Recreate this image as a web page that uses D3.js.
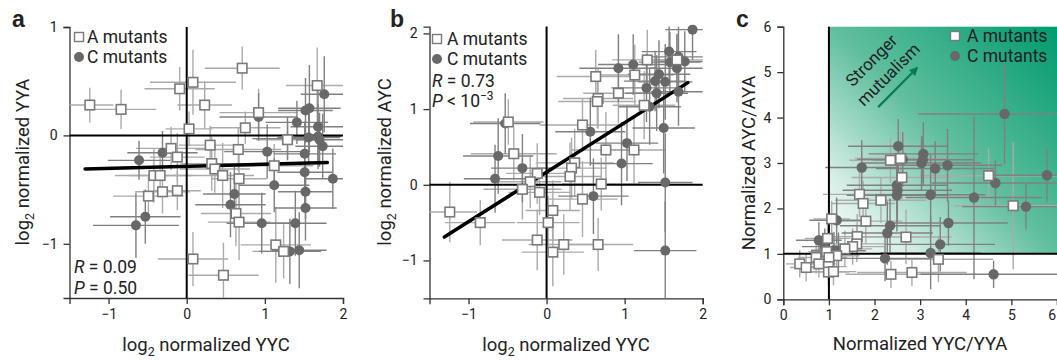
<!DOCTYPE html>
<html><head><meta charset="utf-8">
<script src="https://cdn.jsdelivr.net/npm/d3@7"></script>
<style>
body{margin:0;background:#fff;}
svg text{font-family:Roboto,"Liberation Sans",sans-serif;fill:#222;}
</style></head>
<body><svg id="c" width="1057" height="360"></svg>
<script>
// ---- data: [x, y, xErr, yErr] ----
const aSquares = [
[-1.24,0.28,0.30,0.16],[-0.84,0.24,0.45,0.18],[-0.09,0.43,0.45,0.20],[0.08,0.49,0.55,0.30],
[0.71,0.62,0.48,0.20],[0.23,0.28,0.35,0.22],[0.03,0.06,0.30,0.16],[0.92,0.21,0.50,0.22],
[0.75,0.07,0.45,0.15],[1.67,0.46,0.40,0.35],[1.29,-0.04,0.40,0.18],[-0.20,-0.12,0.45,0.20],
[0.30,-0.09,0.40,0.18],[-0.12,-0.20,0.35,0.22],[0.66,-0.13,0.55,0.20],[0.32,-0.26,0.40,0.25],
[0.36,-0.31,0.45,0.22],[1.12,-0.28,0.50,0.20],[-0.42,-0.37,0.50,0.25],[-0.34,-0.37,0.40,0.20],
[-0.49,-0.56,0.45,0.18],[-0.31,-0.52,0.35,0.20],[-0.12,-0.51,0.30,0.18],[0.46,-0.37,0.40,0.30],
[0.67,-0.40,0.35,0.30],[0.63,-0.72,0.45,0.30],[0.67,-0.80,0.40,0.35],[1.14,-1.01,0.45,0.35],
[1.24,-1.07,0.40,0.25],[0.08,-1.14,0.45,0.25],[0.47,-1.29,0.45,0.30]];
const aCircles = [
[-0.61,-0.23,0.40,0.18],[-0.31,-0.16,0.45,0.20],[-0.53,-0.75,0.45,0.25],[-0.65,-0.83,0.55,0.30],
[0.92,0.17,0.50,0.22],[1.03,-0.15,0.55,0.25],[1.41,0.12,0.40,0.20],[1.52,0.23,0.35,0.30],
[1.57,0.25,0.40,0.40],[1.76,0.38,0.30,0.35],[1.68,0.08,0.35,0.35],[1.56,-0.02,0.40,0.25],
[1.68,-0.01,0.30,0.30],[1.70,-0.04,0.30,0.25],[1.74,-0.10,0.35,0.30],[1.51,-0.17,0.40,0.30],
[1.51,-0.34,0.35,0.30],[1.87,-0.40,0.35,0.28],[1.12,-0.46,0.45,0.25],[0.61,-0.54,0.40,0.25],
[0.56,-0.64,0.45,0.30],[0.96,-0.81,0.45,0.28],[1.39,-0.81,0.40,0.30],[1.52,-0.52,0.35,0.25],
[1.52,-0.67,0.40,0.30],[1.32,-1.07,0.40,0.30],[1.44,-1.06,0.35,0.35],[1.29,-0.03,0.45,0.20]];
const aFit = [[-1.30,-0.31],[1.80,-0.25]];

const bSquares = [
[-1.24,-0.36,0.35,0.40],[-0.85,-0.50,0.45,0.30],[-0.49,0.83,0.45,0.30],[-0.42,0.41,0.55,0.35],
[-0.12,0.15,0.40,0.40],[-0.21,0.04,0.40,0.35],[-0.31,-0.06,0.50,0.40],[-0.09,-0.10,0.40,0.30],
[0.08,-0.34,0.35,0.40],[0.02,-0.50,0.40,0.35],[-0.12,-0.73,0.45,0.40],[0.08,-0.89,0.40,0.45],
[0.22,-0.79,0.45,0.40],[0.66,-0.79,0.45,0.35],[0.46,-0.19,0.45,0.50],[0.36,0.29,0.50,0.45],
[0.32,0.22,0.45,0.40],[0.30,0.11,0.40,0.45],[0.46,0.79,0.55,0.35],[0.70,0.01,0.50,0.35],
[0.63,1.43,0.50,0.35],[0.66,1.14,0.45,0.40],[0.65,1.10,0.50,0.35],[0.92,1.21,0.45,0.40],
[1.13,1.45,0.50,0.40],[1.29,1.65,0.45,0.40],[1.25,1.05,0.40,0.45],[0.76,0.46,0.45,0.50],
[1.12,0.46,0.40,0.45],[1.67,1.65,0.35,0.35]];
const bCircles = [
[1.87,2.05,0.35,0.40],[1.57,1.76,0.35,0.35],[1.69,1.69,0.35,0.40],[1.77,1.63,0.35,0.40],
[1.58,1.62,0.40,0.40],[1.11,1.59,0.45,0.40],[0.92,1.54,0.50,0.45],[1.67,1.54,0.35,0.45],
[1.44,1.46,0.40,0.45],[1.39,1.37,0.40,0.40],[1.52,1.36,0.35,0.50],[1.28,1.28,0.45,0.45],
[1.41,1.21,0.40,0.50],[1.69,1.23,0.35,0.45],[1.32,1.03,0.40,0.50],[1.50,0.75,0.40,0.60],
[0.56,0.70,0.45,0.45],[1.03,0.55,0.40,0.50],[0.96,0.28,0.40,0.55],[-0.53,0.81,0.45,0.40],
[-0.62,0.38,0.45,0.50],[-0.31,0.22,0.40,0.45],[-0.66,0.08,0.40,0.45],[0.60,-0.15,0.45,0.50],
[1.52,0.03,0.35,0.65],[1.52,-0.87,0.40,0.65]];
const bFit = [[-1.31,-0.69],[1.81,1.35]];

const cSquares = [
[2.35,3.06,0.9,0.5],[2.57,3.10,1.0,0.6],[2.60,2.68,1.1,0.5],[4.50,2.72,1.5,0.6],
[5.04,2.06,1.3,1.4],[2.14,2.18,1.0,0.5],[2.69,1.37,1.0,0.6],[3.40,0.88,1.2,0.5],
[2.36,0.55,1.0,0.3],[2.82,0.59,1.2,0.3],[1.67,2.31,0.8,0.5],[1.75,2.11,0.7,0.5],
[1.81,1.72,0.8,0.5],[1.06,1.77,0.4,0.4],[1.62,1.38,0.7,0.5],[1.61,1.22,0.6,0.4],
[1.52,1.16,0.7,0.4],[0.97,1.34,0.5,0.4],[1.35,1.11,0.6,0.4],[0.95,1.05,0.4,0.3],
[1.17,0.96,0.5,0.4],[1.00,0.92,0.4,0.3],[0.36,0.78,0.3,0.3],[0.50,0.70,0.35,0.3],
[0.72,0.92,0.4,0.35],[0.78,0.78,0.4,0.3],[0.99,0.72,0.4,0.3],[0.99,0.60,0.45,0.3],
[1.10,0.61,0.5,0.3]];
const cCircles = [
[4.85,4.08,1.9,1.1],[2.52,3.37,1.1,0.6],[3.07,3.20,1.2,0.7],[1.72,2.90,0.8,0.6],
[2.62,3.08,1.0,0.6],[3.03,3.00,1.3,0.6],[3.06,3.07,1.1,0.5],[3.33,2.88,1.3,0.6],
[3.60,2.95,1.2,0.8],[5.78,2.73,1.4,0.6],[4.65,2.56,1.4,0.5],[2.49,2.51,1.1,0.6],
[2.50,2.40,1.2,0.7],[2.49,2.29,1.1,0.8],[3.23,2.30,1.2,0.9],[4.18,2.24,1.5,1.8],
[5.32,2.04,1.4,0.5],[3.62,1.68,1.3,0.5],[2.34,1.62,1.1,0.6],[2.28,1.46,1.0,0.7],
[3.44,1.21,1.2,0.6],[3.23,1.02,1.1,0.8],[2.23,0.90,1.0,0.5],[4.61,0.55,1.6,0.3],
[1.17,1.74,0.6,0.5],[0.78,1.30,0.5,0.4],[0.91,1.16,0.5,0.4],[1.11,1.08,0.5,0.4],
[1.21,1.07,0.6,0.4]];
const arrowC = [[2.08,4.23],[2.93,5.09]];

const ticksAB_x = [-1,0,1,2];
const ticksA_y = [-1,0,1];
const ticksB_y = [-1,0,1,2];
const ticksC = [0,1,2,3,4,5,6];
const legendLabels = ["A mutants","C mutants"];

// ---- drawing ----
const svg = d3.select("#c");
const defs = svg.append("defs");
const fmt = d => d < 0 ? "\u2212" + Math.abs(d) : String(d);
const colA = "#ababab", colC = "#808080";
const TITLE = 18.5, LEG = 17.5, TICK = 14;

function panel(id, xs, ys, xt, yt, sq, ci, sqSize, cr) {
  const g = svg.append("g");
  const [x0,x1] = xs.range(), [y0,y1] = ys.range();
  defs.append("clipPath").attr("id","clip"+id).append("rect")
    .attr("x",x0).attr("y",y1).attr("width",x1-x0).attr("height",y0-y1);
  const ax = g.append("g").attr("transform",`translate(0,${y0})`)
    .call(d3.axisBottom(xs).tickValues(xt).tickFormat(fmt).tickSizeOuter(0).tickSize(6).tickPadding(5));
  const ay = g.append("g").attr("transform",`translate(${x0},0)`)
    .call(d3.axisLeft(ys).tickValues(yt).tickFormat(fmt).tickSizeOuter(0).tickSize(6).tickPadding(6));
  [ax,ay].forEach(a=>{a.selectAll("path,line").attr("stroke","#333").attr("stroke-width",1.3);
    a.selectAll("text").attr("font-size",TICK).attr("fill","#222").style("font-family","Roboto,sans-serif");});
  // keep the last x tick label inside the page
  ax.selectAll(".tick text").filter(d => xs(d) > 1050).attr("text-anchor","end").attr("x",-1.5);
  const eb = g.append("g").attr("clip-path",`url(#clip${id})`);
  function bars(data,col){
    eb.append("g").selectAll("line.h").data(data).join("line")
      .attr("x1",d=>xs(d[0]-d[2])).attr("x2",d=>xs(d[0]+d[2]))
      .attr("y1",d=>ys(d[1])).attr("y2",d=>ys(d[1])).attr("stroke",col).attr("stroke-width",1.4);
    eb.append("g").selectAll("line.v").data(data).join("line")
      .attr("x1",d=>xs(d[0])).attr("x2",d=>xs(d[0]))
      .attr("y1",d=>ys(d[1]-d[3])).attr("y2",d=>ys(d[1]+d[3])).attr("stroke",col).attr("stroke-width",1.4);
  }
  bars(sq,colA); bars(ci,colC);
  return {g, eb, drawMarkers(){
    g.append("g").selectAll("circle").data(ci).join("circle")
      .attr("cx",d=>xs(d[0])).attr("cy",d=>ys(d[1])).attr("r",cr).attr("fill","#686868");
    g.append("g").selectAll("rect").data(sq).join("rect")
      .attr("x",d=>xs(d[0])-sqSize/2).attr("y",d=>ys(d[1])-sqSize/2)
      .attr("width",sqSize).attr("height",sqSize)
      .attr("fill","#fff").attr("stroke","#7a7a7a").attr("stroke-width",1.6);
  }};
}

function refLines(g, xs, ys, xv, yv) {
  g.append("line").attr("x1",xs.range()[0]).attr("x2",xs.range()[1]).attr("y1",ys(yv)).attr("y2",ys(yv))
    .attr("stroke","#000").attr("stroke-width",2);
  g.append("line").attr("x1",xs(xv)).attr("x2",xs(xv)).attr("y1",ys.range()[0]).attr("y2",ys.range()[1])
    .attr("stroke","#000").attr("stroke-width",2);
}

function legend(g, x, y, tx) {
  g.append("rect").attr("x",x-4.5).attr("y",y-4.5).attr("width",9).attr("height",9)
    .attr("fill","#fff").attr("stroke","#7a7a7a").attr("stroke-width",1.4);
  g.append("circle").attr("cx",x).attr("cy",y+20).attr("r",5).attr("fill","#686868");
  legendLabels.forEach((t,i)=>g.append("text").attr("x",tx).attr("y",y+6+20*i)
    .attr("font-size",LEG).text(t));
}

function logLabel(g, x, y, rot, name) {
  const t = g.append("text").attr("text-anchor","middle").attr("font-size",TITLE)
    .attr("transform",`translate(${x},${y}) rotate(${rot})`);
  t.append("tspan").text("log");
  t.append("tspan").attr("font-size",12.5).attr("dy",4.5).text("2");
  t.append("tspan").attr("dy",-4.5).text(" normalized " + name);
}

function letter(x, y, t) {
  svg.append("text").attr("x",x).attr("y",y).attr("font-size",23).attr("font-weight","bold")
    .style("font-family","'Liberation Sans',Arial,sans-serif").attr("fill","#000").text(t);
}

function stat(g, x, y, sym, rest) {
  const t = g.append("text").attr("x",x).attr("y",y).attr("font-size",LEG);
  t.append("tspan").attr("font-style","italic").text(sym);
  t.append("tspan").text(rest);
  return t;
}

// Panel a
const xa = d3.scaleLinear().domain([-1.5,2]).range([69.5,343]);
const ya = d3.scaleLinear().domain([-1.5,1]).range([298,27]);
const pa = panel("a", xa, ya, ticksAB_x, ticksA_y, aSquares, aCircles, 9.5, 5);
refLines(pa.g, xa, ya, 0, 0);
pa.g.append("line").attr("x1",xa(aFit[0][0])).attr("y1",ya(aFit[0][1])).attr("x2",xa(aFit[1][0])).attr("y2",ya(aFit[1][1]))
  .attr("stroke","#000").attr("stroke-width",3.5).attr("stroke-linecap","round");
pa.drawMarkers();
legend(pa.g, 79, 37, 87);
stat(pa.g, 74, 273, "R", " = 0.09");
stat(pa.g, 74, 294, "P", " = 0.50");
logLabel(svg, 29, 162, -90, "YYA");
logLabel(svg, 206, 351, 0, "YYC");
letter(12, 27, "a");

// Panel b
const xb = d3.scaleLinear().domain([-1.5,2]).range([429.5,702.7]);
const yb = d3.scaleLinear().domain([-1.5,2.09]).range([298.3,26.6]);
const pb = panel("b", xb, yb, ticksAB_x, ticksB_y, bSquares, bCircles, 9.5, 5);
refLines(pb.g, xb, yb, 0, 0);
pb.g.append("line").attr("x1",xb(bFit[0][0])).attr("y1",yb(bFit[0][1])).attr("x2",xb(bFit[1][0])).attr("y2",yb(bFit[1][1]))
  .attr("stroke","#000").attr("stroke-width",3.5).attr("stroke-linecap","round");
pb.drawMarkers();
legend(pb.g, 437, 39, 447);
stat(pb.g, 432, 87, "R", " = 0.73");
const t4 = stat(pb.g, 432, 107, "P", " < 10");
t4.append("tspan").attr("font-size",12).attr("dy",-7).text("\u22123");
logLabel(svg, 391, 162, -90, "AYC");
logLabel(svg, 566, 351, 0, "YYC");
letter(390, 27, "b");

// Panel c
const xc = d3.scaleLinear().domain([0,6]).range([783.3,1057]);
const yc = d3.scaleLinear().domain([0,6]).range([299.3,26.7]);
const grad = defs.append("linearGradient").attr("id","gc").attr("gradientUnits","userSpaceOnUse")
  .attr("x1",xc(1)).attr("y1",yc(1)).attr("x2",xc(6)).attr("y2",yc(6));
[[0,"#ffffff"],[0.18,"#d5eee6"],[0.5,"#62bf9f"],[1,"#009a6f"]].forEach(s=>grad.append("stop").attr("offset",s[0]).attr("stop-color",s[1]));
svg.append("rect").attr("x",xc(1)).attr("y",yc(6)).attr("width",xc(6)-xc(1)).attr("height",yc(1)-yc(6)).attr("fill","url(#gc)");
const pc = panel("c", xc, yc, ticksC, ticksC, cSquares, cCircles, 9.5, 5.2);
refLines(pc.g, xc, yc, 1, 1);
pc.drawMarkers();
legend(pc.g, 955, 36, 967);
// annotation
const ann = pc.g.append("g").attr("transform","translate(872,61) rotate(-45)");
ann.append("text").attr("text-anchor","middle").attr("y",5).attr("font-size",17).attr("fill","#17915f").text("Stronger");
ann.append("text").attr("text-anchor","middle").attr("x",2).attr("y",27).attr("font-size",17).attr("fill","#17915f").text("mutualism");
defs.append("marker").attr("id","ah").attr("viewBox","0 0 10 10").attr("refX",8).attr("refY",5)
  .attr("markerWidth",4).attr("markerHeight",4).attr("orient","auto")
  .append("path").attr("d","M0,0 L10,5 L0,10 z").attr("fill","#0c7a52");
pc.g.append("line").attr("x1",xc(arrowC[0][0])).attr("y1",yc(arrowC[0][1])).attr("x2",xc(arrowC[1][0])).attr("y2",yc(arrowC[1][1]))
  .attr("stroke","#0c7a52").attr("stroke-width",2.2).attr("marker-end","url(#ah)");
svg.append("text").attr("x",920).attr("y",350).attr("text-anchor","middle").attr("font-size",TITLE).text("Normalized YYC/YYA");
svg.append("text").attr("text-anchor","middle").attr("font-size",TITLE).attr("transform","translate(755,163) rotate(-90)").text("Normalized AYC/AYA");
letter(736, 27, "c");
</script></body></html>
